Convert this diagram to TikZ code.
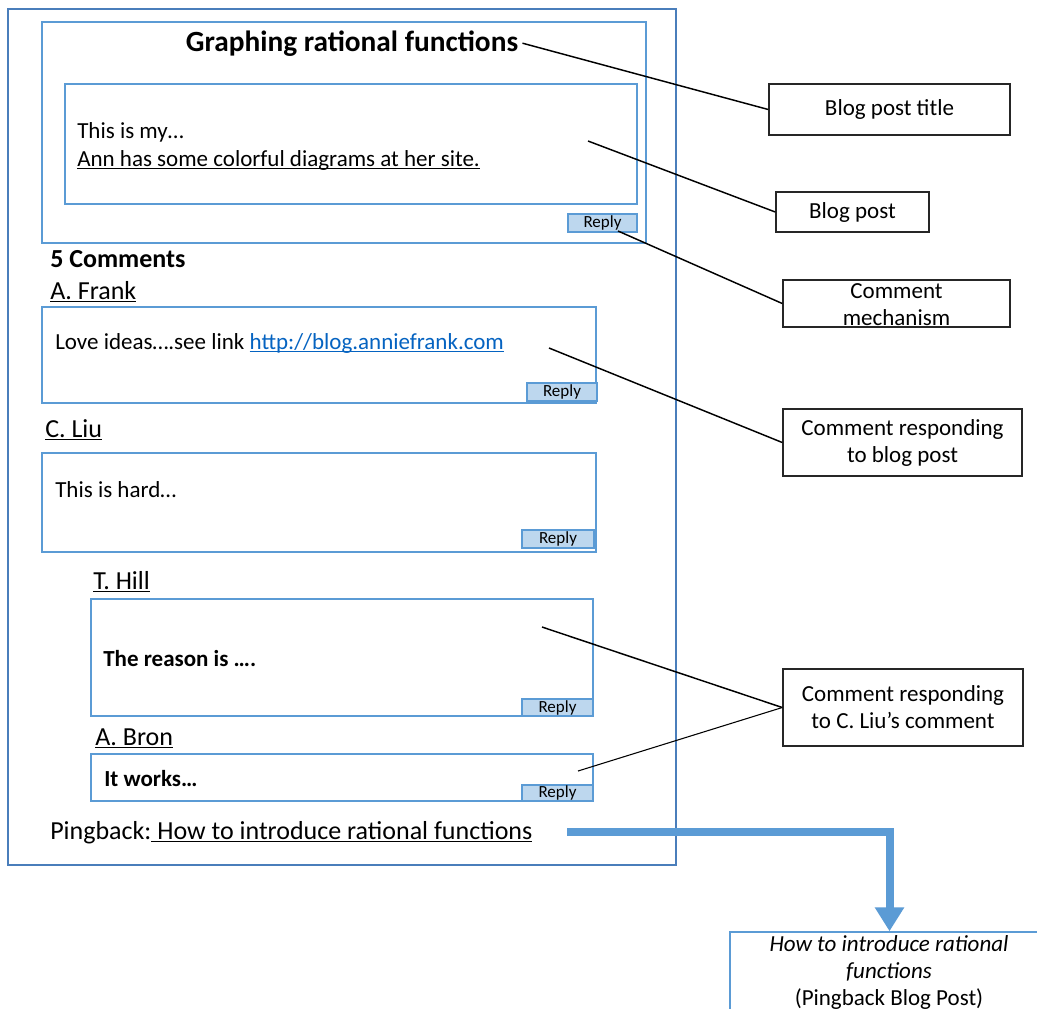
\documentclass[tikz,border=0pt]{standalone}
\usepackage{fontspec}
\setmainfont{Carlito}
\usetikzlibrary{fit,arrows.meta}
\definecolor{frameblue}{HTML}{4A7EBB}
\definecolor{boxblue}{HTML}{5B9BD5}
\definecolor{replyfill}{HTML}{BDD7EE}
\definecolor{linkblue}{HTML}{0563C1}
\newcommand{\fbody}{\fontsize{17.25pt}{20.25pt}\selectfont}
\newcommand{\fhead}{\fontsize{19.5pt}{22pt}\selectfont}
\newcommand{\ftitle}{\fontsize{22pt}{26pt}\selectfont}
\newcommand{\freply}{\fontsize{12.75pt}{14pt}\selectfont}
% simple underline drawn as a rule just under the baseline
\newsavebox{\ulinebox}
\newcommand{\uln}[1]{\sbox{\ulinebox}{#1}\rlap{\rule[-2.6pt]{\wd\ulinebox}{0.9pt}}\usebox{\ulinebox}}
\begin{document}
\begin{tikzpicture}[x=0.75pt,y=-0.75pt,
  bluebox/.style={draw=boxblue, line width=1.1pt, inner sep=0pt},
  framebox/.style={draw=frameblue, line width=1.1pt, inner sep=0pt},
  replybtn/.style={draw=boxblue, fill=replyfill, line width=1pt, inner sep=0pt,
    label={[font=\freply, inner sep=0pt]center:Reply}},
  lblbox/.style={draw=black!85, line width=1.1pt, inner sep=0pt},
  txt/.style={inner sep=0pt, anchor=base west, font=\fbody},
  head/.style={inner sep=0pt, anchor=base west, font=\fhead},
  lbltxt/.style={inner sep=0pt, align=center, font=\fbody},
  callout/.style={draw=black, line width=1.1pt},
  pingarrow/.style={draw=boxblue, line width=6pt, -{Triangle[width=21pt,length=18pt]}}
]
\clip (0,0) rectangle (1037,1008);
\fill[white] (0,0) rectangle (1037,1008);

% page frame and blog post area
\node[framebox, fit={(8,9)(676,865)}] (page) {};
\node[bluebox, fit={(42,22)(646,243)}] (post) {};
\node[inner xsep=3pt, inner ysep=0pt, anchor=base, font=\ftitle\bfseries] (title) at (352,51) {Graphing rational functions};
\node[bluebox, fit={(65,84)(637,204)}] (body) {};
\node[txt] (bodyA) at (77,138) {This is my\ldots};
\node[txt] (bodyB) at (77,166) {\uln{Ann has some colorful diagrams at her site.}};
\node[replybtn, fit={(568,214)(637,232)}] (reply0) {};

% comments
\node[head, font=\fhead\bfseries] (count) at (50,267) {5 Comments};

\node[head] (nameA) at (50,299) {\uln{A. Frank}};
\node[bluebox, fit={(42,307)(596,403)}] (cA) {};
\node[txt] (cAtext) at (55,349) {Love ideas\ldots.see link \textcolor{linkblue}{\uln{http://blog.anniefrank.com}}};
\node[replybtn, fit={(527,383)(597,401)}] (replyA) {};

\node[head] (nameC) at (45,437) {\uln{C. Liu}};
\node[bluebox, fit={(42,453)(596,552)}] (cC) {};
\node[txt] (cCtext) at (55,497) {This is hard\ldots};
\node[replybtn, fit={(522,530)(594,548)}] (replyC) {};

\node[head] (nameT) at (93,589) {\uln{T. Hill}};
\node[bluebox, fit={(91,599)(593,716)}] (cT) {};
\node[txt, font=\fbody\bfseries] (cTtext) at (103,666) {The reason is \ldots.};
\node[replybtn, fit={(522,699)(593,716)}] (replyT) {};

\node[head] (nameB) at (95,745) {\uln{A. Bron}};
\node[bluebox, fit={(91,754)(593,801)}] (cB) {};
\node[txt, font=\fbody\bfseries] (cBtext) at (104,786) {It works\ldots};
\node[replybtn, fit={(522,785)(593,801)}] (replyB) {};

\node[head] (ping) at (50,839) {Pingback:\uln{ How to introduce rational functions}};

% explanation boxes
\node[lblbox, fit={(769,84)(1010,135)}] (lTitle) {};
\node[lbltxt] at (lTitle) {Blog post title};
\node[lblbox, fit={(776,192)(929,232)}] (lPost) {};
\node[lbltxt] at (lPost) {Blog post};
\node[lblbox, fit={(783,280)(1010,327)}] (lMech) {};
\node[lbltxt] at (896.5,304.5) {Comment\\mechanism};
\node[lblbox, fit={(783,409)(1022,476)}] (lResp) {};
\node[lbltxt] at (lResp) {Comment responding\\to blog post};
\node[lblbox, fit={(783,669)(1023,746)}] (lLiu) {};
\node[lbltxt] at (lLiu) {Comment responding\\to C. Liu’s comment};

% pingback target
\node[bluebox, fit={(730,932)(1049,1040)}] (target) {};
\node[lbltxt] at (889,972) {\textit{How to introduce rational}\\\textit{functions}\\(Pingback Blog Post)};

% callout lines
\coordinate (pBody) at (588,141);
\coordinate (pReply) at (618,231);
\coordinate (pA) at (549,348);
\coordinate (pT) at (542,627);
\coordinate (pB) at (578,771);
\coordinate (pPing) at (567,832);
\draw[callout] (title.east) -- (lTitle.west);
\draw[callout] (pBody) -- (lPost.west);
\draw[callout] (pReply) -- (lMech.west);
\draw[callout] (pA) -- (lResp.west);
\draw[callout] (pT) -- (lLiu.west);
\draw[callout, line width=0.8pt] (pB) -- (lLiu.west);

% pingback arrow
\draw[pingarrow] (pPing) -| (target.north);
\end{tikzpicture}
\end{document}
